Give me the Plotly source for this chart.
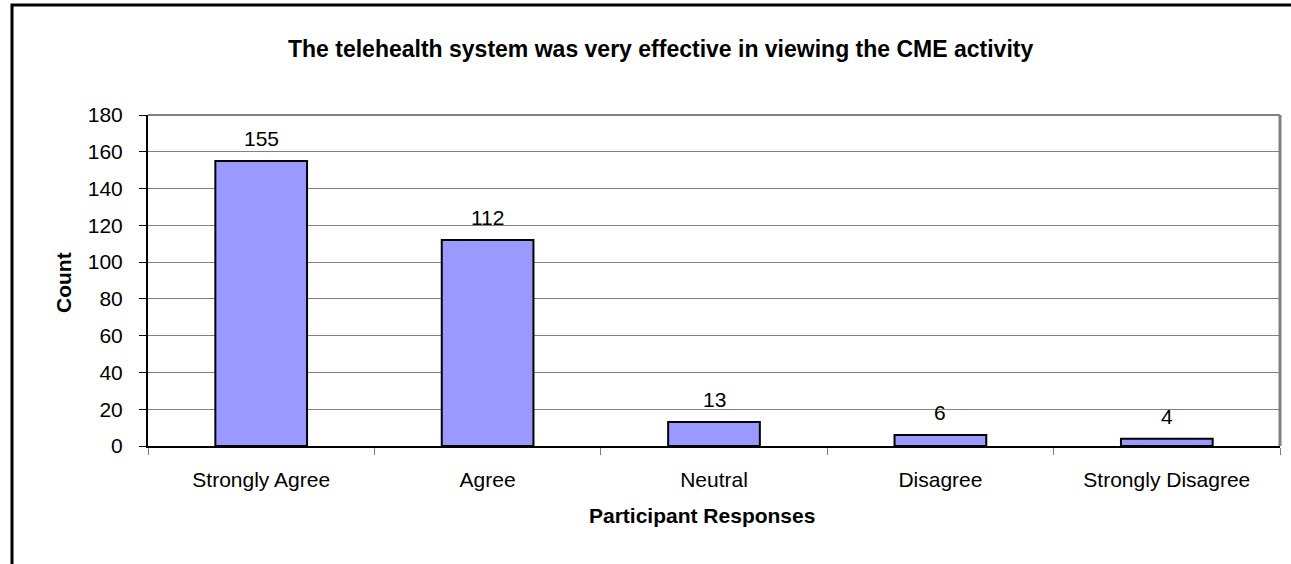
import plotly.graph_objects as go

categories = ["Strongly Agree", "Agree", "Neutral", "Disagree", "Strongly Disagree"]
counts = [155, 112, 13, 6, 4]
y_ticks = [0, 20, 40, 60, 80, 100, 120, 140, 160, 180]

W, H = 1291, 564
L, R, T, B = 148, 11, 115, 118
pw = W - L - R
ph = H - T - B

FONT = "Liberation Sans, Arial, sans-serif"
FS = 21

fig = go.Figure()
fig.add_trace(go.Bar(
    x=categories, y=counts,
    marker=dict(color="#9999FF", line=dict(color="black", width=2)),
    hoverinfo="x+y",
))

def px_x(p):
    return (p - L) / pw

def px_y(p):
    return (H - B - p) / ph

annotations = []
for c, v in zip(categories, counts):
    annotations.append(dict(
        x=c, y=v, xref="x", yref="y", text=str(v), showarrow=False,
        yanchor="bottom", yshift=9, font=dict(family=FONT, size=FS, color="black"),
    ))
annotations.append(dict(
    text="<b>Participant Responses</b>", xref="paper", yref="paper",
    x=px_x(702), y=px_y(515), xanchor="center", yanchor="middle", showarrow=False,
    font=dict(family=FONT, size=FS, color="black"),
))
annotations.append(dict(
    text="<b>Count</b>", xref="paper", yref="paper", textangle=-90,
    x=px_x(63), y=px_y(283), xanchor="center", yanchor="middle", showarrow=False,
    font=dict(family=FONT, size=FS, color="black"),
))
annotations.append(dict(
    text="<b>The telehealth system was very effective in viewing the CME activity</b>",
    xref="paper", yref="paper",
    x=px_x(660), y=px_y(49), xanchor="center", yanchor="middle", showarrow=False,
    font=dict(family=FONT, size=23, color="black"),
))

fig.update_layout(
    width=W, height=H,
    margin=dict(l=L, r=R, t=T, b=B),
    paper_bgcolor="white", plot_bgcolor="white",
    bargap=0.595,
    showlegend=False,
    font=dict(family=FONT, size=FS, color="black"),
    xaxis=dict(
        ticks="outside", tickson="boundaries", ticklen=7, tickcolor="#808080", tickwidth=1,
        showline=True, linecolor="black", linewidth=2,
        showgrid=False, tickfont=dict(family=FONT, size=FS),
        ticklabelstandoff=14,
    ),
    yaxis=dict(
        range=[0, 180], tickvals=y_ticks, ticks="outside", ticklen=7, tickcolor="black",
        showline=True, linecolor="black", linewidth=2,
        showgrid=True, gridcolor="#808080", gridwidth=1,
        zeroline=False, tickfont=dict(family=FONT, size=FS),
        ticklabelstandoff=12,
    ),
    annotations=annotations,
    shapes=[
        dict(type="line", xref="paper", yref="paper", x0=0, x1=1, y0=1, y1=1,
             line=dict(color="#808080", width=2)),
        dict(type="line", xref="paper", yref="paper", x0=1, x1=1, y0=0, y1=1,
             line=dict(color="#808080", width=3)),
        dict(type="rect", xref="paper", yref="paper",
             x0=px_x(12), x1=px_x(1300), y0=px_y(575), y1=px_y(5),
             line=dict(color="black", width=3), fillcolor="rgba(0,0,0,0)"),
    ],
)

fig.write_html("out.html", config={"displayModeBar": False},
               post_script="document.body.style.margin='0';document.body.style.overflow='hidden';")
